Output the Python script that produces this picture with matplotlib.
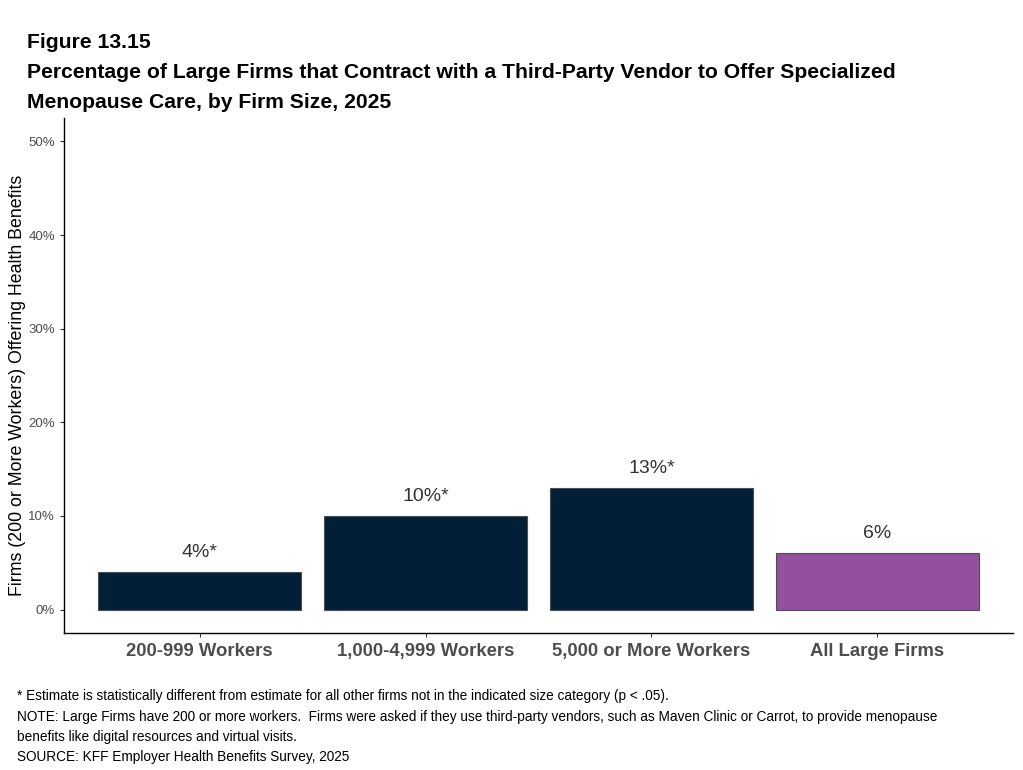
import matplotlib
matplotlib.use("Agg")
import matplotlib.pyplot as plt

plt.rcParams['font.family'] = ['Liberation Sans', 'DejaVu Sans']

categories = ["200-999 Workers", "1,000-4,999 Workers", "5,000 or More Workers", "All Large Firms"]
values = [4, 10, 13, 6]
labels = ["4%*", "10%*", "13%*", "6%"]
colors = ["#011f36", "#011f36", "#011f36", "#93509e"]
yticks = [0, 10, 20, 30, 40, 50]
ytick_labels = ["0%", "10%", "20%", "30%", "40%", "50%"]

W, H = 1023, 770
fig = plt.figure(figsize=(W / 100, H / 100), dpi=100)
ax = fig.add_axes([64 / W, 1 - 633 / H, (1013 - 64) / W, (633 - 118) / H])

x = list(range(1, len(categories) + 1))
ax.bar(x, values, width=0.9, color=colors, edgecolor="#4d4d4d", linewidth=0.8, zorder=2)
for xi, v, lab in zip(x, values, labels):
    ax.annotate(lab, (xi, v), xytext=(0, 8), textcoords="offset points",
                ha="center", va="bottom", fontsize=14, color="#333333")

ax.set_xlim(0.4, 4.6)
ax.set_ylim(-2.5, 52.5)
ax.set_xticks(x)
ax.set_xticklabels(categories, fontsize=13.3, fontweight="bold", color="#4d4d4d")
ax.set_yticks(yticks)
ax.set_yticklabels(ytick_labels, fontsize=9.5, color="#4d4d4d")
ax.tick_params(axis="both", length=3, color="#333333", width=0.8)
ax.tick_params(axis="x", pad=4)
for s in ["top", "right"]:
    ax.spines[s].set_visible(False)
for s in ["left", "bottom"]:
    ax.spines[s].set_color("#000000")
    ax.spines[s].set_linewidth(1.0)
ax.set_ylabel("Firms (200 or More Workers) Offering Health Benefits", fontsize=12.75, color="#000000")
ax.yaxis.set_label_coords((26 - 64) / 949, (633 - 385) / 515)

title_lines = [
    "Figure 13.15",
    "Percentage of Large Firms that Contract with a Third-Party Vendor to Offer Specialized",
    "Menopause Care, by Firm Size, 2025",
]
for i, t in enumerate(title_lines):
    fig.text(27 / W, 1 - (42 + 30.5 * i) / H, t, fontsize=15.2, fontweight="bold",
             ha="left", va="center", color="#000000")

notes = [
    "* Estimate is statistically different from estimate for all other firms not in the indicated size category (p < .05).",
    "NOTE: Large Firms have 200 or more workers.  Firms were asked if they use third-party vendors, such as Maven Clinic or Carrot, to provide menopause",
    "benefits like digital resources and virtual visits.",
    "SOURCE: KFF Employer Health Benefits Survey, 2025",
]
for i, t in enumerate(notes):
    fig.text(17 / W, 1 - (696 + 20.5 * i) / H, t, fontsize=9.85, ha="left", va="center", color="#000000")

fig.savefig("out.png", dpi=100)
